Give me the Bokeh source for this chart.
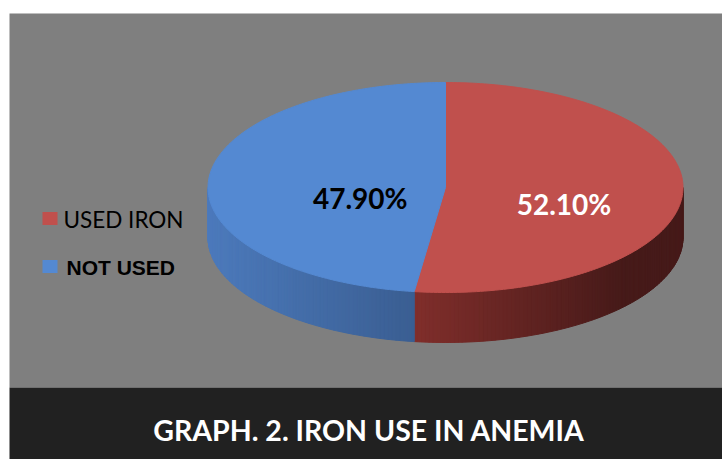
import numpy as np
from bokeh.plotting import figure
from bokeh.models import Range1d
from bokeh.core.properties import value
from bokeh.embed import file_html
from bokeh.resources import INLINE

# ---- data ----
CATEGORIES = ["USED IRON", "NOT USED"]
VALUES = [52.1, 47.9]
LABELS = ["52.10%", "47.90%"]
TITLE = "GRAPH. 2. IRON USE IN ANEMIA"

# ---- styles ----
TOP_COLORS = ["#C0504D", "#5489D2"]
SIDE_LIGHT = [(128, 46, 43), (76, 122, 188)]
SIDE_DARK = [(70, 26, 25), (58, 94, 146)]
LABEL_COLORS = ["white", "black"]
LABEL_R = [0.50, 0.36]
LEGEND_FONTS = ["Lato", "Liberation Sans"]
LEGEND_STYLES = ["normal", "bold"]
LEGEND_SIZES = ["22.5px", "21px"]

W, H = 722, 459
CX, CY, A, B, DEPTH = 445.0, 187.0, 237.5, 105.0, 50.0

p = figure(width=W, height=H, x_range=Range1d(0, W), y_range=Range1d(H, 0),
           output_backend="svg", toolbar_location=None, min_border=0)
p.axis.visible = False
p.grid.visible = False
p.outline_line_color = None
p.background_fill_color = "white"
p.border_fill_color = "white"

# panels
p.quad(left=[9], right=[W], top=[13], bottom=[387], fill_color="#7F7F7F", line_color=None)
p.quad(left=[9], right=[W], top=[387], bottom=[H], fill_color="#212121", line_color=None)

# slice angles (degrees clockwise from top)
total = sum(VALUES)
bounds = [0.0]
for v in VALUES:
    bounds.append(bounds[-1] + v / total * 360.0)


def pt(theta_deg, dy=0.0):
    t = np.radians(theta_deg)
    return CX + A * np.sin(t), CY - B * np.cos(t) + dy


def slice_index(theta):
    for i in range(len(VALUES)):
        if bounds[i] <= theta < bounds[i + 1]:
            return i
    return len(VALUES) - 1


# sides (visible from 90 to 270 degrees)
xs, ys, cols = [], [], []
edges = sorted(set(list(np.linspace(90, 270, 181)) + [b for b in bounds if 90 < b < 270]))
div_x = pt(bounds[1])[0]
for t0, t1 in zip(edges[:-1], edges[1:]):
    i = slice_index((t0 + t1) / 2)
    x0, y0 = pt(t0)
    x1, y1 = pt(t1)
    xm = (x0 + x1) / 2
    if i == 0:
        f = np.clip((xm - div_x) / (CX + A - 60 - div_x), 0, 1)
    else:
        f = np.clip((xm - (CX - A)) / (div_x - (CX - A)), 0, 1)
    c = tuple(int(round(SIDE_LIGHT[i][k] * (1 - f) + SIDE_DARK[i][k] * f)) for k in range(3))
    col = "#%02x%02x%02x" % c
    xs.append([x0, x1, x1, x0])
    ys.append([y0, y1, y1 + DEPTH, y0 + DEPTH])
    cols.append(col)
p.patches(xs, ys, fill_color=cols, line_color=cols, line_width=1)

# top slices
txs, tys = [], []
for i in range(len(VALUES)):
    th = np.linspace(bounds[i], bounds[i + 1], 200)
    px, py = pt(th)
    txs.append([CX] + list(px))
    tys.append([CY] + list(py))
p.patches(txs, tys, fill_color=TOP_COLORS, line_color=TOP_COLORS, line_width=1)

# labels
lx, ly = [], []
for i in range(len(VALUES)):
    tm = np.radians((bounds[i] + bounds[i + 1]) / 2)
    lx.append(CX + A * LABEL_R[i] * np.sin(tm))
    ly.append(CY - B * LABEL_R[i] * np.cos(tm) + 13)
p.text(x=lx, y=ly, text=LABELS, text_color=LABEL_COLORS, text_font=value("Lato"),
       text_font_style="bold", text_font_size="28px", text_align="center",
       text_baseline="middle")

# legend
for i, cat in enumerate(CATEGORIES):
    yy = 218 + i * 48
    p.rect(x=[49.5], y=[yy], width=15, height=13, fill_color=TOP_COLORS[i], line_color=None)
    p.text(x=[63 + i * 3], y=[yy + 1], text=[cat], text_color="black",
           text_font=value(LEGEND_FONTS[i]), text_font_style=LEGEND_STYLES[i],
           text_font_size=LEGEND_SIZES[i], text_baseline="middle")

# title
p.text(x=[(9 + W) / 2 + 3], y=[429], text=[TITLE], text_color="white",
       text_font=value("Lato"), text_font_style="bold", text_font_size="28.5px",
       text_align="center", text_baseline="middle")

open("out.html", "w").write(file_html(p, INLINE))
